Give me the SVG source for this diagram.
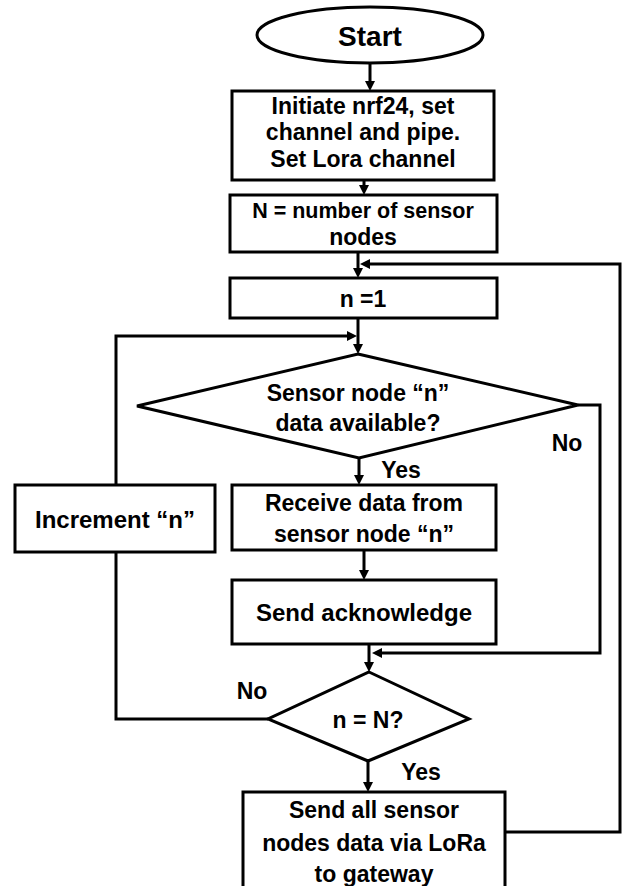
<svg xmlns="http://www.w3.org/2000/svg" width="622" height="886" viewBox="0 0 622 886">
  <style>
    .shape { fill: #ffffff; stroke: #000000; stroke-width: 3; }
    .conn { fill: none; stroke: #000000; stroke-width: 3; }
    text { font-family: "Liberation Sans", Arial, sans-serif; font-weight: bold; fill: #000000; text-anchor: middle; font-size: 23px; }
    .title { font-size: 28px; }
    .wide { font-size: 24px; }
    .narrow { font-size: 21.5px; }
  </style>
  <defs>
    <marker id="arrow" viewBox="0 0 10 10" refX="4" refY="5" markerWidth="10" markerHeight="10" markerUnits="userSpaceOnUse" orient="auto">
      <path d="M0,0 L10,5 L0,10 z" fill="#000000"/>
    </marker>
  </defs>

  <!-- connectors -->
  <g id="connectors">
    <path class="conn" d="M370,63 L370,85" marker-end="url(#arrow)"/>
    <path class="conn" d="M364,180 L364,189" marker-end="url(#arrow)"/>
    <path class="conn" d="M358,252 L358,272" marker-end="url(#arrow)"/>
    <path class="conn" d="M505,832 L620,832 L620,264 L366,264" marker-end="url(#arrow)"/>
    <path class="conn" d="M358,318 L358,348" marker-end="url(#arrow)"/>
    <path class="conn" d="M116,485 L116,336 L351,336" marker-end="url(#arrow)"/>
    <path class="conn" d="M359,458 L359,479" marker-end="url(#arrow)"/>
    <path class="conn" d="M578,405 L600,405 L600,653 L378,653" marker-end="url(#arrow)"/>
    <path class="conn" d="M364,550 L364,574" marker-end="url(#arrow)"/>
    <path class="conn" d="M369,644 L369,666" marker-end="url(#arrow)"/>
    <path class="conn" d="M268,719 L116,719 L116,552"/>
    <path class="conn" d="M368,761 L368,786" marker-end="url(#arrow)"/>
  </g>

  <g id="start">
    <ellipse class="shape" cx="370" cy="35" rx="113" ry="28"/>
    <text class="title" x="370" y="46">Start</text>
  </g>

  <g id="init">
    <rect class="shape" x="232" y="91" width="262" height="89"/>
    <text x="363" y="114">Initiate nrf24, set</text>
    <text x="363" y="140">channel and pipe.</text>
    <text x="363" y="167">Set Lora channel</text>
  </g>

  <g id="count-nodes">
    <rect class="shape" x="230" y="195" width="267" height="57"/>
    <text class="narrow" x="363" y="218">N = number of sensor</text>
    <text x="363" y="245">nodes</text>
  </g>

  <g id="reset-n">
    <rect class="shape" x="230" y="278" width="267" height="40"/>
    <text x="363" y="307">n =1</text>
  </g>

  <g id="data-check">
    <polygon class="shape" points="358,354 578,405 359,458 137,406"/>
    <text x="358" y="401">Sensor node “n”</text>
    <text x="358" y="431">data available?</text>
  </g>

  <g id="increment">
    <rect class="shape" x="15" y="485" width="200" height="67"/>
    <text class="wide" x="115" y="528">Increment “n”</text>
  </g>

  <g id="receive">
    <rect class="shape" x="232" y="485" width="264" height="65"/>
    <text x="364" y="511">Receive data from</text>
    <text x="364" y="542">sensor node “n”</text>
  </g>

  <g id="acknowledge">
    <rect class="shape" x="232" y="580" width="264" height="64"/>
    <text class="wide" x="364" y="621">Send acknowledge</text>
  </g>

  <g id="last-check">
    <polygon class="shape" points="369,672 469,719 368,761 268,719"/>
    <text x="368" y="728">n = N?</text>
  </g>

  <g id="send-lora">
    <rect class="shape" x="243" y="792" width="262" height="100"/>
    <text x="374" y="818">Send all sensor</text>
    <text x="374" y="851">nodes data via LoRa</text>
    <text x="374" y="882">to gateway</text>
  </g>

  <g id="labels">
    <text x="567" y="451">No</text>
    <text x="401" y="478">Yes</text>
    <text x="252" y="699">No</text>
    <text x="421" y="780">Yes</text>
  </g>
</svg>
